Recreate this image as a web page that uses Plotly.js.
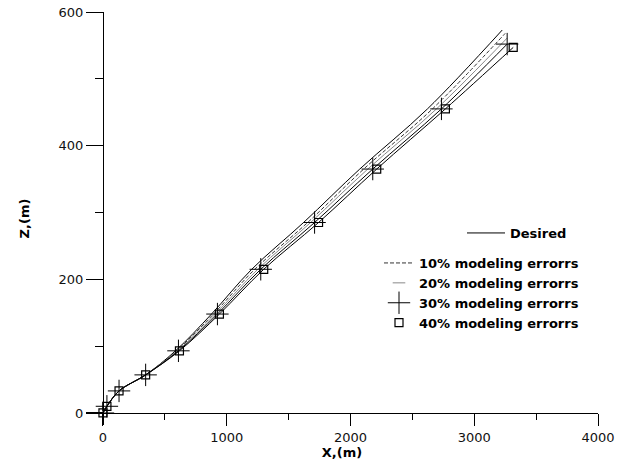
<!DOCTYPE html>
<html>
<head>
<meta charset="utf-8">
<script src="https://cdn.plot.ly/plotly-3.0.1.min.js"></script>
<style>html,body{margin:0;padding:0;background:#fff;}#chart{width:628px;height:465px;}</style>
</head>
<body>
<div id="chart"></div>
<script>
// Trajectories X (m) vs Z (m)
var zDesired = [0, 10, 33, 57, 93, 148, 215, 285, 365, 455, 573];
var xDesired = [0, 32, 130, 345, 586, 877, 1202, 1621, 2075, 2622, 3226];

var z10 = [0, 10, 33, 57, 93, 148, 215, 285, 365, 455, 568];
var x10 = [0, 32, 130, 345, 594, 893, 1227, 1654, 2107, 2662, 3250];

var z20 = [0, 10, 33, 57, 93, 148, 215, 285, 365, 455, 561];
var x20 = [0, 32, 130, 345, 602, 909, 1251, 1678, 2140, 2695, 3266];

var z30 = [0, 10, 33, 57, 93, 148, 215, 285, 365, 455, 552];
var x30 = [0, 32, 130, 345, 610, 925, 1275, 1710, 2180, 2735, 3266];

var z40 = [0, 10, 33, 57, 93, 148, 215, 285, 365, 455, 547];
var x40 = [0, 32, 130, 345, 618, 941, 1299, 1742, 2212, 2767, 3315];

var names = ['Desired', '10% modeling errorrs', '20% modeling errorrs', '30% modeling errorrs', '40% modeling errorrs'];

var FONT = 'DejaVu Sans, Arial, sans-serif';

var traces = [
  {x: xDesired, y: zDesired, name: names[0], mode: 'lines', legend: 'legend2',
   line: {color: '#000', width: 1, shape: 'spline'}},
  {x: x10, y: z10, name: names[1], mode: 'lines',
   line: {color: '#333', width: 1, dash: '4px,2px', shape: 'spline'}},
  {x: x20, y: z20, name: names[2], mode: 'lines', showlegend: false, legendgroup: 'g20',
   line: {color: '#888', width: 1, shape: 'spline'}},
  {x: x20, y: z20, name: names[2], mode: 'markers', visible: 'legendonly', legendgroup: 'g20',
   marker: {symbol: 'line-ew-open', size: 9, color: '#888', line: {color: '#888', width: 1}}},
  {x: x30, y: z30, name: names[3], mode: 'lines', showlegend: false, legendgroup: 'g30',
   line: {color: '#000', width: 1, shape: 'spline'}},
  {x: x30, y: z30, name: names[3], mode: 'markers', legendgroup: 'g30',
   marker: {symbol: 'cross-thin-open', size: 16, color: '#000', line: {color: '#000', width: 1}}},
  {x: x40, y: z40, name: names[4], mode: 'lines', showlegend: false, legendgroup: 'g40',
   line: {color: '#000', width: 1, shape: 'spline'}},
  {x: x40, y: z40, name: names[4], mode: 'markers', legendgroup: 'g40',
   marker: {symbol: 'square-open', size: 8, color: '#000', line: {color: '#000', width: 1.2}}}
];

var layout = {
  width: 628, height: 465,
  margin: {l: 86, r: 30, t: 12, b: 40},
  paper_bgcolor: '#fff', plot_bgcolor: '#fff',
  font: {family: FONT, size: 13, color: '#111'},
  showlegend: true,
  xaxis: {
    range: [-137, 4000], anchor: 'free', position: 18 / 618,
    showgrid: false, zeroline: false, showline: true, linecolor: '#000', linewidth: 1,
    ticks: 'outside', ticklen: 12, tickcolor: '#000', tickwidth: 1, dtick: 1000, tick0: 0,
    minor: {dtick: 500, ticklen: 6, ticks: 'outside', tickcolor: '#000', tickwidth: 1},
    tickfont: {family: FONT, size: 13, color: '#111'},
    title: {text: 'X,(m)', font: {family: FONT, size: 13, weight: 'bold', color: '#000'}, standoff: 2}
  },
  yaxis: {
    range: [-18, 600], anchor: 'free', position: 137 / 4137,
    showgrid: false, zeroline: false, showline: true, linecolor: '#000', linewidth: 1,
    ticks: 'outside', ticklen: 17, tickcolor: '#000', tickwidth: 1, dtick: 200, tick0: 0,
    minor: {dtick: 100, ticklen: 8, ticks: 'outside', tickcolor: '#000', tickwidth: 1},
    tickfont: {family: FONT, size: 13, color: '#111'},
    title: {text: 'Z,(m)', font: {family: FONT, size: 13, weight: 'bold', color: '#000'}, standoff: 24}
  },
  legend: {
    x: (379 - 86) / 512, y: (425 - 248) / 413, xanchor: 'left', yanchor: 'top',
    bgcolor: 'rgba(0,0,0,0)', borderwidth: 0,
    font: {family: FONT, size: 13, weight: 'bold', color: '#000'},
    traceorder: 'normal'
  },
  legend2: {
    x: (462 - 86) / 512, y: (425 - 218) / 413, xanchor: 'left', yanchor: 'top',
    bgcolor: 'rgba(0,0,0,0)', borderwidth: 0, itemwidth: 38,
    font: {family: FONT, size: 13, weight: 'bold', color: '#000'}
  }
};

Plotly.newPlot('chart', traces, layout, {displayModeBar: false, staticPlot: true}).then(function (gd) {
  // keep the legend-only entry's label at full strength (its symbol is already grey)
  gd.querySelectorAll('.legend .traces').forEach(function (g) {
    if (g.style.opacity && parseFloat(g.style.opacity) < 1) g.style.opacity = 1;
  });
});
</script>
</body>
</html>
